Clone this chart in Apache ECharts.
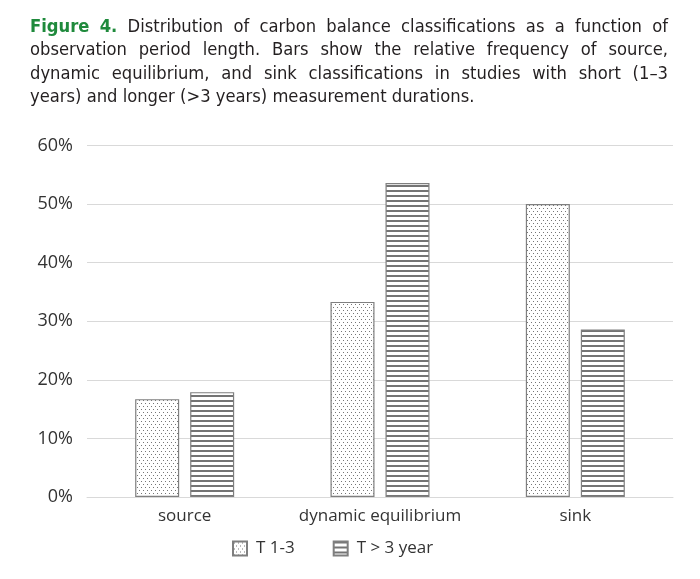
<!DOCTYPE html>
<html>
<head>
<meta charset="utf-8">
<script src="https://cdn.jsdelivr.net/npm/echarts@6/dist/echarts.min.js"></script>
<style>
html,body{margin:0;padding:0;background:#fff;}
#chart{width:700px;height:579px;}
</style>
</head>
<body>
<div id="chart"></div>
<script>
var categories = ['source', 'dynamic equilibrium', 'sink'];
var seriesNames = ['T 1-3', 'T > 3 year'];
var shortValues = [16.7, 33.3, 50.0];
var longValues = [17.9, 53.6, 28.6];
var yTicks = [0, 10, 20, 30, 40, 50, 60];
var captionLabel = 'Figure 4.';
var captionLines = [
  'Distribution of carbon balance classifications as a function of',
  'observation period length. Bars show the relative frequency of source,',
  'dynamic equilibrium, and sink classifications in studies with short (1–3',
  'years) and longer (>3 years) measurement durations.'
];

function dotPattern() {
  var c = document.createElement('canvas');
  c.width = 4; c.height = 6;
  var ctx = c.getContext('2d');
  ctx.fillStyle = '#ffffff'; ctx.fillRect(0, 0, 4, 6);
  ctx.fillStyle = '#767676';
  ctx.fillRect(1, 1, 1, 1);
  ctx.fillRect(3, 4, 1, 1);
  return c;
}
function stripePattern() {
  var c = document.createElement('canvas');
  c.width = 4; c.height = 5;
  var ctx = c.getContext('2d');
  ctx.fillStyle = '#ffffff'; ctx.fillRect(0, 0, 4, 5);
  ctx.fillStyle = '#747474';
  ctx.fillRect(0, 0, 4, 2);
  return c;
}

var titleFamily = '"Liberation Sans Narrow", "DejaVu Sans Condensed", "Open Sans", sans-serif';
var measureCtx = document.createElement('canvas').getContext('2d');
function textWidth(t, font) { measureCtx.font = font; return measureCtx.measureText(t).width; }

function buildCaption() {
  var left = 30, right = 668, top = 27, lineH = 23.5, lastLineEnd = 475;
  var base = 18;
  var lastW = textWidth(captionLines[captionLines.length - 1], base + 'px ' + titleFamily);
  var size = Math.max(16, Math.min(20, base * (lastLineEnd - left) / lastW));
  var normalFont = size.toFixed(2) + 'px ' + titleFamily;
  var boldFont = 'bold ' + size.toFixed(2) + 'px ' + titleFamily;
  var els = [];
  captionLines.forEach(function (line, li) {
    var words = line.split(' ').map(function (w) { return {t: w, font: normalFont, fill: '#231f20'}; });
    if (li === 0) {
      var lab = captionLabel.split(' ').map(function (w) { return {t: w, font: boldFont, fill: '#1f8a3c'}; });
      words = lab.concat(words);
    }
    var total = 0;
    words.forEach(function (w) { w.w = textWidth(w.t, w.font); total += w.w; });
    var space = textWidth(' ', normalFont);
    var justify = li < captionLines.length - 1;
    if (justify && words.length > 1) space = (right - left - total) / (words.length - 1);
    var x = left;
    words.forEach(function (w) {
      els.push({
        type: 'text', x: x, y: top + li * lineH,
        style: {text: w.t, font: w.font, fill: w.fill, textAlign: 'left', textVerticalAlign: 'middle', verticalAlign: 'middle'}
      });
      x += w.w + space;
    });
  });
  return els;
}

var chart = echarts.init(document.getElementById('chart'), null, {renderer: 'canvas'});
var labelFont = '"Open Sans", sans-serif';
chart.setOption({
  animation: false,
  backgroundColor: '#ffffff',
  graphic: {elements: buildCaption()},
  legend: {
    top: 535,
    left: 227,
    itemWidth: 14,
    itemHeight: 14,
    itemGap: 38,
    icon: 'rect',
    textStyle: {fontFamily: labelFont, fontSize: 17, color: '#333333', padding: [0, 0, 0, 4]},
    data: seriesNames
  },
  grid: {left: 87, right: 27, top: 145.5, bottom: 82, containLabel: false},
  xAxis: {
    type: 'category',
    data: categories,
    axisTick: {show: false},
    axisLine: {lineStyle: {color: '#d9d9d9', width: 1}},
    axisLabel: {fontFamily: labelFont, fontSize: 17, color: '#333333', margin: 11, interval: 0}
  },
  yAxis: {
    type: 'value',
    min: yTicks[0],
    max: yTicks[yTicks.length - 1],
    interval: yTicks[1] - yTicks[0],
    axisLine: {show: false},
    axisTick: {show: false},
    splitLine: {lineStyle: {color: '#d9d9d9', width: 1}},
    axisLabel: {fontFamily: labelFont, fontSize: 18, color: '#333333', margin: 14,
      formatter: function (v) { return v + '%'; }}
  },
  series: [
    {
      name: seriesNames[0], type: 'bar', data: shortValues, barWidth: 44, barGap: '25%',
      itemStyle: {color: {image: dotPattern(), repeat: 'repeat'}, borderColor: '#7f7f7f', borderWidth: 1.2}
    },
    {
      name: seriesNames[1], type: 'bar', data: longValues, barWidth: 44, barGap: '25%',
      itemStyle: {color: {image: stripePattern(), repeat: 'repeat'}, borderColor: '#7f7f7f', borderWidth: 1.2}
    }
  ]
});
</script>
</body>
</html>
